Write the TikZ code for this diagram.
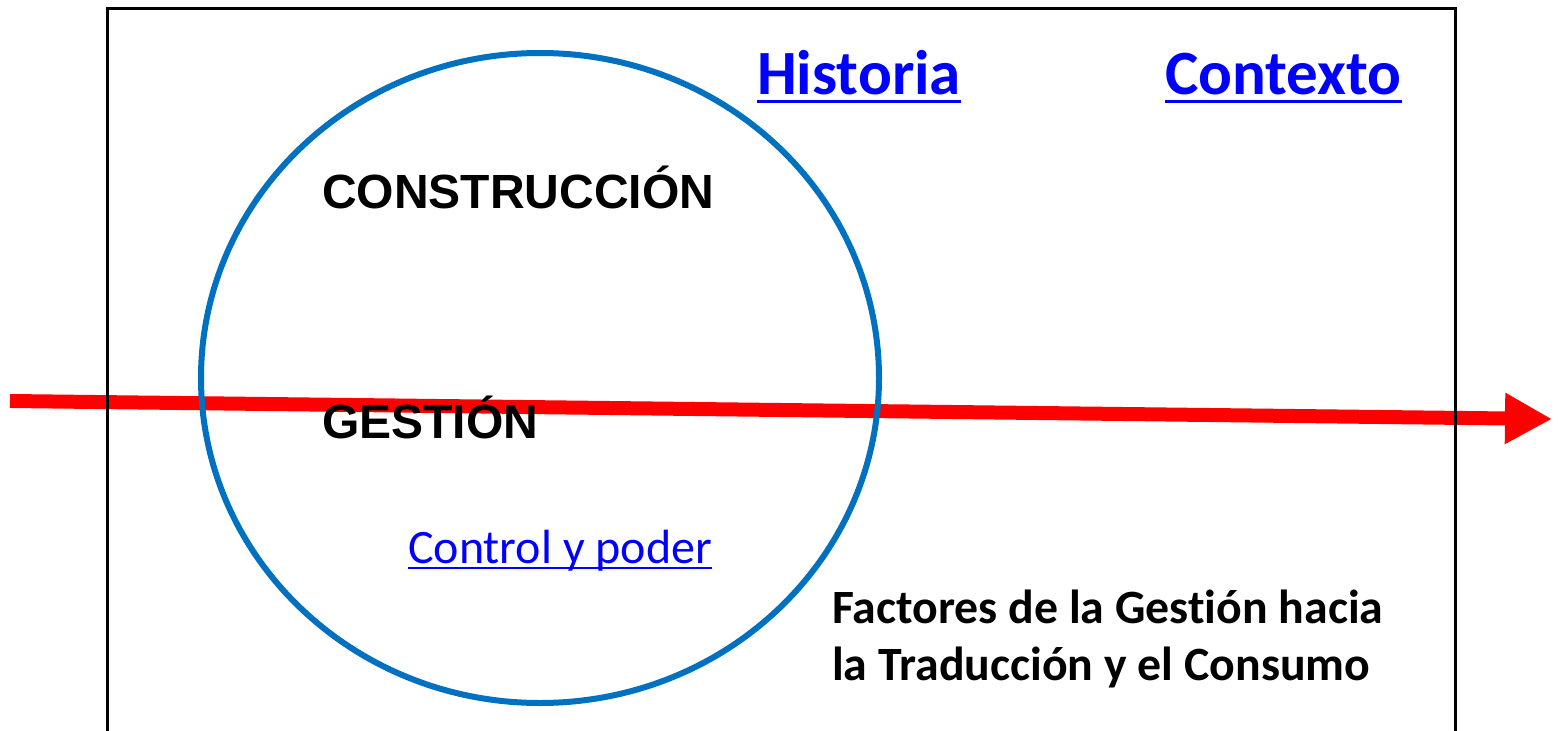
\documentclass[tikz,border=0pt]{standalone}
\usepackage{fontspec}
\setmainfont{Carlito}[Ligatures={NoCommon,TeX}]
\newfontfamily\arialfont{Liberation Sans}
\usetikzlibrary{arrows.meta}
\definecolor{ellblue}{HTML}{0070C0}
\definecolor{linkblue}{HTML}{0000FF}
\definecolor{arrred}{HTML}{FF0000}
\tikzset{
  lbl/.style={inner sep=0pt, anchor=base west},
  capslbl/.style={lbl, font=\arialfont\bfseries\fontsize{48}{56}\selectfont, text=black},
  linklbl/.style={lbl, font=\bfseries\fontsize{63}{70}\selectfont, text=linkblue},
  smalllink/.style={lbl, font=\fontsize{48}{56}\selectfont, text=linkblue},
  factlbl/.style={lbl, font=\bfseries\fontsize{47.8}{57}\selectfont, text=black},
  frame/.style={line width=3pt, draw=black},
  ring/.style={line width=6pt, draw=ellblue},
  bigarrow/.style={line width=14pt, draw=arrred, -{Triangle[length=47pt,width=48pt]}}
}
\begin{document}
\begin{tikzpicture}[x=1pt,y=1pt]
\useasboundingbox (0,0) rectangle (1559,-731);
% red arrow (drawn first, everything else lies over it)
\coordinate (astart) at (10,-401);
\coordinate (aend) at (1552,-419);
\draw[bigarrow] (astart) -- (aend);
% frame (bottom edge outside the picture)
\draw[frame] (107,-740) -- (107,-8) -- (1455,-8) -- (1455,-740);
% ellipse
\draw[ring] (540,-378) ellipse [x radius=339, y radius=325];
% texts
\node[linklbl] (hist) at (757,-94) {Historia};
\node[linklbl] (ctx) at (1165,-94) {Contexto};
\draw[linkblue, line width=3pt] ([yshift=-7pt]hist.base west) -- ([yshift=-7pt]hist.base east);
\draw[linkblue, line width=3pt] ([yshift=-7pt]ctx.base west) -- ([yshift=-7pt]ctx.base east);
\node[capslbl] (cons) at (322,-208) {CONSTRUCCIÓN};
\node[capslbl] (gest) at (322,-438) {GESTIÓN};
\node[smalllink] (ctrl) at (408,-563) {Control y poder};
\draw[linkblue, line width=2pt] ([yshift=-5pt]ctrl.base west) -- ([yshift=-5pt]ctrl.base east);
\node[factlbl] (fac1) at (832,-623) {Factores de la Gestión hacia};
\node[factlbl] (fac2) at (832,-680) {la Traducción y el Consumo};
\end{tikzpicture}
\end{document}
